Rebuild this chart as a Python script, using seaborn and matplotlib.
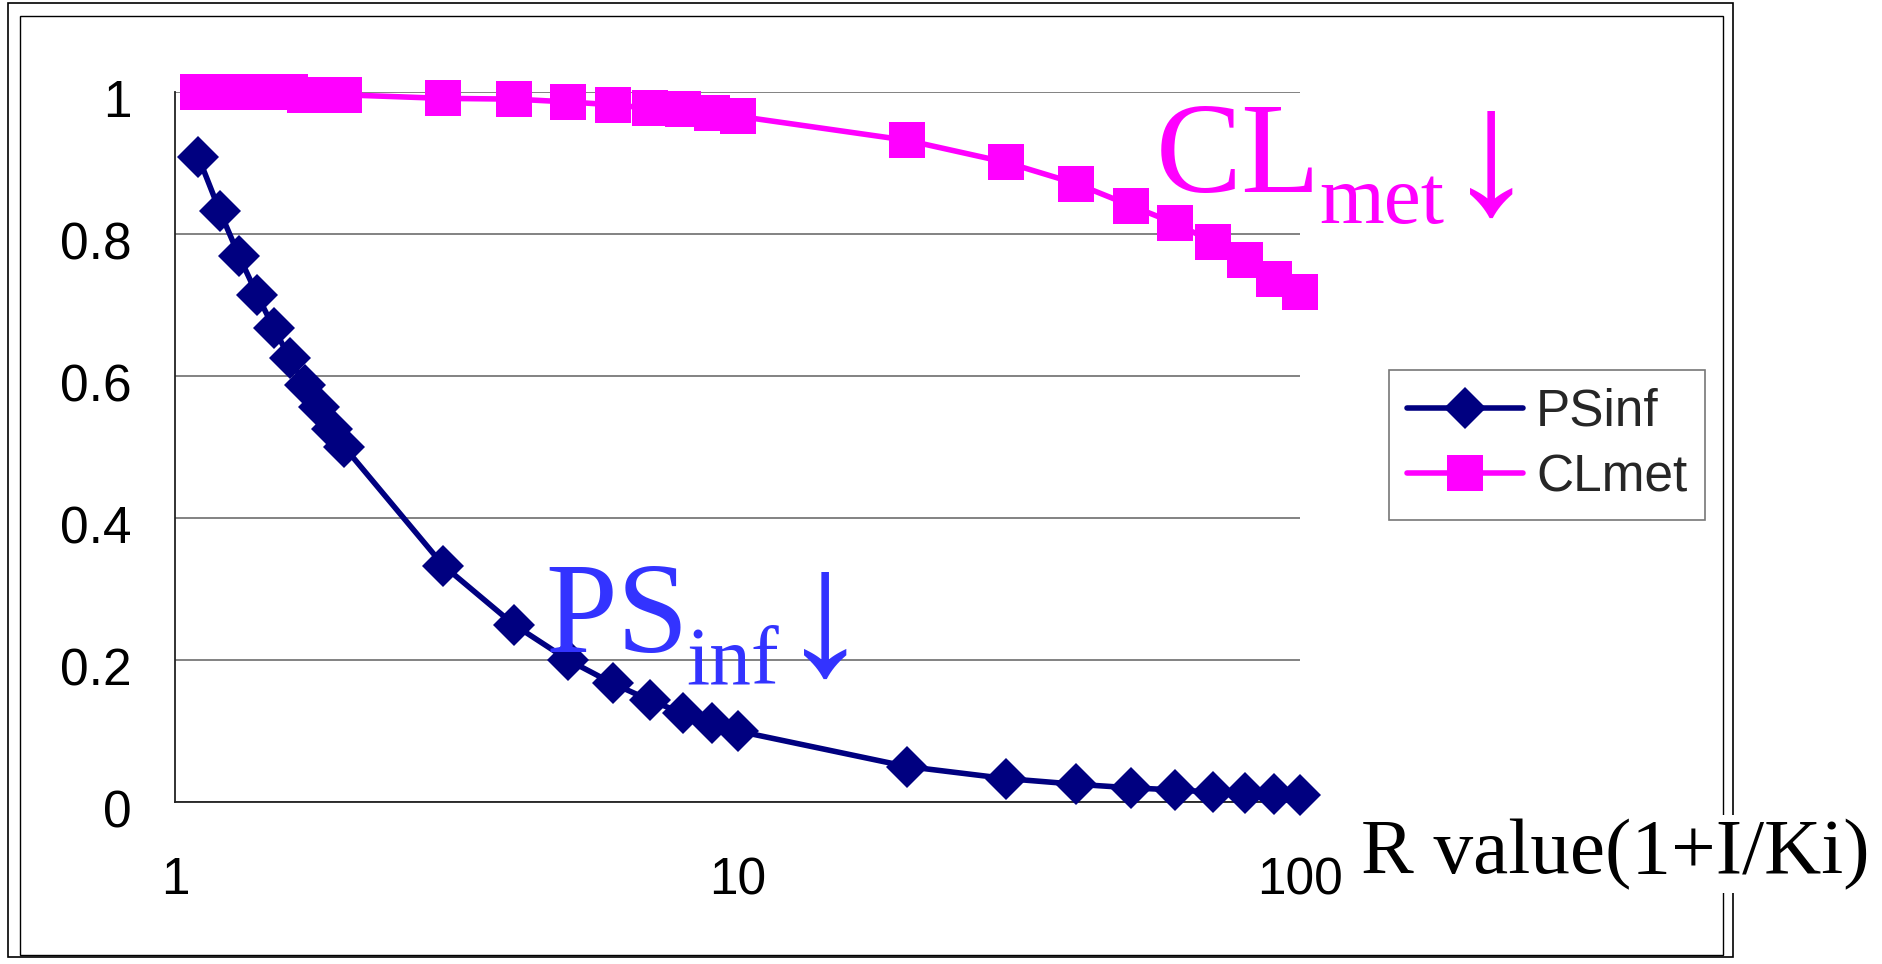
import matplotlib
matplotlib.use("Agg")
import matplotlib.pyplot as plt
import matplotlib.transforms as mtransforms
from matplotlib.patches import Rectangle
import seaborn as sns
import pandas as pd

# ---- data ----
r_values = [1.1, 1.2, 1.3, 1.4, 1.5, 1.6, 1.7, 1.8, 1.9, 2, 3, 4, 5, 6, 7, 8, 9, 10,
            20, 30, 40, 50, 60, 70, 80, 90, 100]
ps_inf = [0.909, 0.833, 0.769, 0.714, 0.667, 0.625, 0.588, 0.556, 0.526, 0.5,
          0.333, 0.25, 0.2, 0.167, 0.143, 0.125, 0.111, 0.1,
          0.05, 0.033, 0.025, 0.02, 0.017, 0.014, 0.0125, 0.011, 0.01]
cl_met = [1.0, 1.0, 1.0, 1.0, 1.0, 1.0, 0.996, 0.996, 0.996, 0.996,
          0.991, 0.990, 0.986, 0.982, 0.977, 0.976, 0.970, 0.966,
          0.932, 0.901, 0.871, 0.840, 0.815, 0.789, 0.764, 0.736, 0.718]
series_names = ["PSinf", "CLmet"]
x_ticks = [1, 10, 100]
x_tick_labels = ["1", "10", "100"]
y_ticks = [0, 0.2, 0.4, 0.6, 0.8, 1]
y_tick_labels = ["0", "0.2", "0.4", "0.6", "0.8", "1"]

df = pd.DataFrame({"R": r_values, "PSinf": ps_inf, "CLmet": cl_met})

sns.set_style("white")
plt.rcParams["font.family"] = ["Liberation Sans", "DejaVu Sans"]

W, H = 1882, 964
fig = plt.figure(figsize=(W / 100, H / 100), dpi=100)
fx = lambda px: px / W
fy = lambda py: 1 - py / H

ax = fig.add_axes([fx(175), fy(802), fx(1300) - fx(175), fy(92) - fy(802)])

navy = "#000080"
magenta = "#FF00FF"

sns.lineplot(data=df, x="R", y="PSinf", ax=ax, color=navy, linewidth=4,
             marker="D", markersize=21, markeredgewidth=0, clip_on=False,
             zorder=4)
sns.lineplot(data=df, x="R", y="CLmet", ax=ax, color=magenta, linewidth=4,
             marker="s", markersize=26, markeredgewidth=0, clip_on=False,
             zorder=3)

ax.set_xscale("log")
ax.set_xlim(1, 100)
ax.set_ylim(0, 1)
ax.set_xticks(x_ticks)
ax.set_xticklabels(x_tick_labels)
ax.xaxis.set_minor_locator(matplotlib.ticker.NullLocator())
ax.set_yticks(y_ticks)
ax.set_yticklabels(y_tick_labels)
ax.set_xlabel("")
ax.set_ylabel("")

ax.grid(axis="y", color="#606060", linewidth=1.1)
ax.grid(axis="x", visible=False)
for s in ["top", "right"]:
    ax.spines[s].set_visible(False)
for s in ["left", "bottom"]:
    ax.spines[s].set_color("#222222")
    ax.spines[s].set_linewidth(1.3)

ax.tick_params(axis="both", which="major", direction="in", length=13,
               width=1.3, color="#222222", labelsize=37, labelcolor="black")
ax.tick_params(axis="y", pad=31)
ax.tick_params(axis="x", pad=39)
offset = mtransforms.ScaledTranslation(0, -6 / 100, fig.dpi_scale_trans)
for lab in ax.get_yticklabels():
    lab.set_transform(lab.get_transform() + offset)

# legend
handles = ax.get_lines()[:2]
leg = ax.legend(handles, series_names, loc="upper left",
                bbox_to_anchor=(fx(1389), fy(370)), bbox_transform=fig.transFigure,
                borderaxespad=0, frameon=True, fancybox=False, fontsize=37,
                handlelength=2.25, handletextpad=0.26, borderpad=0.35,
                labelspacing=0.32)
leg.get_frame().set_edgecolor("#555555")
leg.get_frame().set_linewidth(1.2)

# annotations
serif = ["Liberation Serif", "DejaVu Serif"]
blue = "#3333FF"
fig.text(fx(545), fy(652), "PS", fontsize=93, color=blue, family=serif, va="baseline")
fig.text(fx(686), fy(683), "inf", fontsize=60, color=blue, family=serif, va="baseline")
fig.text(fx(780), fy(674), "\u2193", fontsize=130, color=blue, family=serif, va="baseline")

fig.text(fx(1156), fy(192), "CL", fontsize=93, color=magenta, family=serif, va="baseline")
fig.text(fx(1319), fy(223), "met", fontsize=60, color=magenta, family=serif, va="baseline")
fig.text(fx(1446), fy(213), "\u2193", fontsize=130, color=magenta, family=serif, va="baseline")

# outer frame
fig.patches.append(Rectangle((fx(8), fy(957)), fx(1733) - fx(8), fy(3) - fy(957),
                             transform=fig.transFigure, fill=False,
                             edgecolor="black", linewidth=1.2, zorder=0))
fig.patches.append(Rectangle((fx(20), fy(955)), fx(1723) - fx(20), fy(16) - fy(955),
                             transform=fig.transFigure, fill=False,
                             edgecolor="black", linewidth=1.0, zorder=0))

fig.text(fx(1361), fy(873), "R value(1+I/Ki)", fontsize=57, color="black",
         family=serif, va="baseline", zorder=10,
         bbox=dict(facecolor="white", edgecolor="none", pad=2))

fig.savefig("out.png", dpi=100)
